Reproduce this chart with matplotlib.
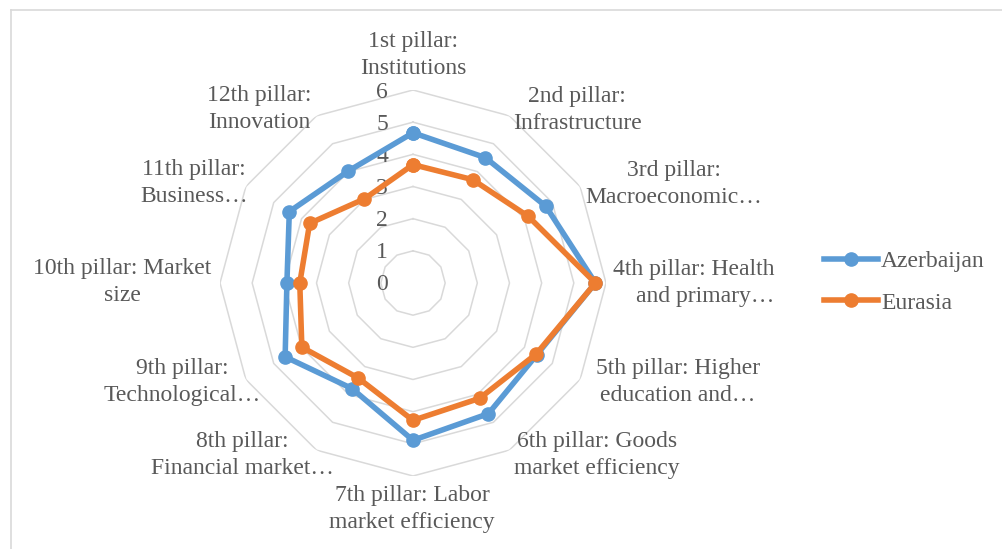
import numpy as np
import matplotlib
matplotlib.use("Agg")
import matplotlib.pyplot as plt
import matplotlib.transforms as mtransforms
from matplotlib.lines import Line2D

plt.rcParams["font.family"] = ["Liberation Serif", "DejaVu Serif"]

categories = [
    "1st pillar:\nInstitutions",
    "2nd pillar:\nInfrastructure",
    "3rd pillar:\nMacroeconomic\u2026",
    "4th pillar: Health\nand primary\u2026",
    "5th pillar: Higher\neducation and\u2026",
    "6th pillar: Goods\nmarket efficiency",
    "7th pillar: Labor\nmarket efficiency",
    "8th pillar:\nFinancial market\u2026",
    "9th pillar:\nTechnological\u2026",
    "10th pillar: Market\nsize",
    "11th pillar:\nBusiness\u2026",
    "12th pillar:\nInnovation",
]
azerbaijan = [4.67, 4.50, 4.77, 5.67, 4.45, 4.69, 4.89, 3.79, 4.59, 3.92, 4.44, 4.02]
eurasia = [3.68, 3.71, 4.14, 5.67, 4.42, 4.14, 4.27, 3.41, 3.99, 3.52, 3.71, 3.02]
r_ticks = [0, 1, 2, 3, 4, 5, 6]

W, H = 1003, 549
TXT = "#595959"
GRID = "#d9d9d9"
BLUE = "#5b9bd5"
ORANGE = "#ed7d31"
FS = 17

fig = plt.figure(figsize=(W / 100, H / 100), dpi=100)
cx, cy, R = 413, 283, 193
ax = fig.add_axes([(cx - R) / W, (H - cy - R) / H, 2 * R / W, 2 * R / H], projection="polar")
ax.set_theta_zero_location("N")
ax.set_theta_direction(-1)
ax.set_ylim(0, 6)
ax.set_xticks([])
ax.set_yticks([])
ax.grid(False)
ax.spines["polar"].set_visible(False)
ax.patch.set_alpha(0)

n = len(categories)
ang = np.linspace(0, 2 * np.pi, n, endpoint=False)
ang_c = np.append(ang, ang[0])

for r in r_ticks[1:]:
    ax.plot(ang_c, [r] * (n + 1), color=GRID, lw=1.1, zorder=0)

off = mtransforms.offset_copy(ax.transData, fig=fig, x=-25, y=-2, units="dots")
for r in r_ticks:
    ax.text(0, r, str(r), transform=off, ha="right", va="center", fontsize=FS, color=TXT)

for vals, col, name in [(azerbaijan, BLUE, "Azerbaijan"), (eurasia, ORANGE, "Eurasia")]:
    ax.plot(ang_c, vals + vals[:1], color=col, lw=4, marker="o", ms=9.5,
            label=name, zorder=3, solid_joinstyle="round")

# label anchors (pixel coords of block center) and line alignment
label_pos = [
    (413, 55, "center"), (577, 110, "center"), (674, 184, "center"),
    (694, 283, "right"), (678, 382, "center"), (597, 455, "center"),
    (412, 509, "center"), (242, 455, "center"), (182, 382, "center"),
    (122, 282, "center"), (194, 183, "center"), (259, 109, "center"),
]
for text, (x, y, ma) in zip(categories, label_pos):
    fig.text(x / W, 1 - y / H, text, ha="center", va="center", multialignment=ma,
             fontsize=FS, color=TXT, linespacing=1.42)

leg = ax.legend(loc="center left", bbox_to_anchor=(824 / W, 1 - 282 / H),
                bbox_transform=fig.transFigure, frameon=False, fontsize=FS,
                handlelength=2.3, handletextpad=0.12, labelspacing=0.85,
                borderpad=0, borderaxespad=0)
for t in leg.get_texts():
    t.set_color(TXT)

fig.add_artist(Line2D([11 / W, 11 / W], [0, 1 - 10 / H], color=GRID, lw=1.2))
fig.add_artist(Line2D([11 / W, 1], [1 - 10 / H, 1 - 10 / H], color=GRID, lw=1.2))

fig.savefig("out.png", dpi=100)
